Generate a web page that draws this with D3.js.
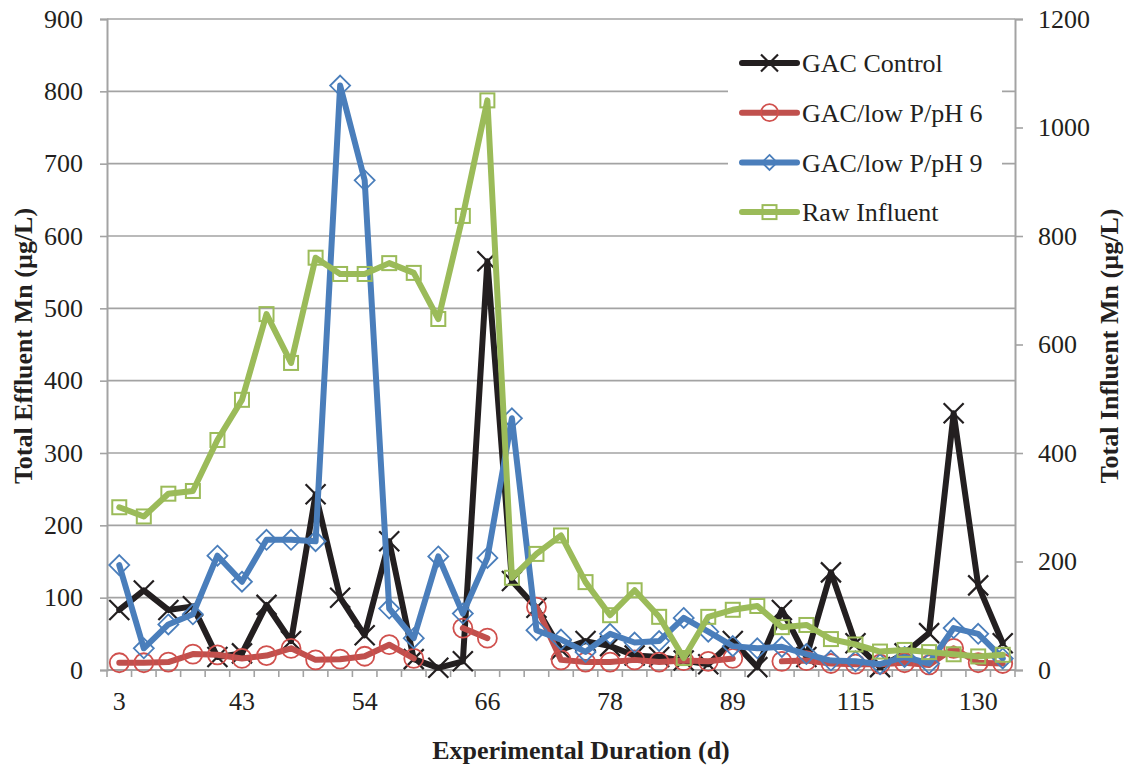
<!DOCTYPE html>
<html>
<head>
<meta charset="utf-8">
<script src="https://cdn.jsdelivr.net/npm/d3@7/dist/d3.min.js"></script>
<style>
  html, body { margin: 0; padding: 0; background: #fff; }
  svg { display: block; }
  text { font-family: "Liberation Serif", "Times New Roman", serif; fill: #231f20; }
</style>
</head>
<body>
<svg id="chart" width="1131" height="772"></svg>
<script>
// Sampling days (only every fifth one is labelled on the axis)
const days = [3, 10, 17, 24, 31, 43, 45, 47, 50, 52, 54, 57, 59, 61, 64, 66, 68, 71, 73, 75,
              78, 80, 82, 85, 87, 89, 94, 99, 104, 110, 115, 118, 121, 124, 127, 130, 133];

// Effluent Mn, µg/L (left axis)
const gacControl = [83, 110, 83, 88, 18, 23, 90, 40, 243, 100, 48, 178, 15, 3, 12, 565, 123, 86, 28, 40,
                    33, 20, 18, 13, 8, 40, 4, 83, 18, 135, 37, 4, 23, 51, 355, 117, 37];
const lowPpH6 = [10, 10, 11, 22, 21, 16, 20, 30, 14, 15, 19, 35, 16, null, 58, 44, null, 87, 14, 11,
                 11, 14, 11, 13, 12, 16, null, 12, 13, 9, 8, 8, 10, 7, 30, 10, 9];
const lowPpH9 = [145, 30, 63, 77, 158, 122, 180, 180, 178, 808, 677, 85, 44, 157, 78, 155, 348, 55, 42, 25,
                 50, 38, 40, 72, 53, 33, 30, 32, 22, 13, 12, 8, 18, 9, 58, 50, 16];
// Influent Mn, µg/L (right axis)
const rawInfluent = [300, 283, 325, 330, 424, 498, 656, 566, 760, 730, 730, 750, 732, 647, 837, 1050, 170, 214, 248, 162,
                     101, 147, 98, 22, 98, 111, 118, 79, 83, 57, 47, 34, 37, 33, 29, 25, 28];

const leftTicks = d3.range(0, 901, 100);
const rightTicks = d3.range(0, 1201, 200);
const seriesNames = ["GAC Control", "GAC/low P/pH 6", "GAC/low P/pH 9", "Raw Influent"];

const svg = d3.select("#chart");
const m = { left: 107, right: 1015, top: 19, bottom: 670 };
const gridColor = "#a3a3a3";

const x = d3.scaleBand().domain(days).range([m.left, m.right]).padding(0);
const yL = d3.scaleLinear().domain([0, 900]).range([m.bottom, m.top]);
const yR = d3.scaleLinear().domain([0, 1200]).range([m.bottom, m.top]);
const cx = d => x(d) + x.bandwidth() / 2;

// Horizontal gridlines
svg.append("g").selectAll("line").data(leftTicks).join("line")
  .attr("x1", m.left).attr("x2", m.right)
  .attr("y1", d => yL(d)).attr("y2", d => yL(d))
  .attr("stroke", gridColor).attr("stroke-width", 1.6);

// Left axis
const gL = svg.append("g").attr("transform", `translate(${m.left},0)`)
  .call(d3.axisLeft(yL).tickValues(leftTicks).tickFormat(d3.format("d")).tickSize(7).tickPadding(17));
// Right axis
const gR = svg.append("g").attr("transform", `translate(${m.right},0)`)
  .call(d3.axisRight(yR).tickValues(rightTicks).tickFormat(d3.format("d")).tickSize(8).tickPadding(15));
// Bottom axis: labels on every fifth category
const gB = svg.append("g").attr("transform", `translate(0,${m.bottom})`)
  .call(d3.axisBottom(x).tickValues(days.filter((d, i) => i % 5 === 0)).tickSize(0).tickPadding(22));

[gL, gR, gB].forEach(g => {
  g.selectAll(".domain").attr("stroke", gridColor).attr("stroke-width", 2);
  g.selectAll(".tick line").attr("stroke", gridColor).attr("stroke-width", 1.6);
  g.selectAll("text").attr("font-size", 26).attr("font-family", '"Liberation Serif", serif').attr("fill", "#231f20");
});
gB.select(".domain").attr("d", `M${m.left},0H${m.right}`);

// Category boundary ticks on the x axis
const edges = days.map(d => x(d)).concat([x.range()[1]]);
svg.append("g").selectAll("line").data(edges).join("line")
  .attr("x1", d => d).attr("x2", d => d)
  .attr("y1", m.bottom).attr("y2", m.bottom + 7)
  .attr("stroke", gridColor).attr("stroke-width", 1.6);

// Marker shapes
const markers = {
  cross: (g, s, color) => g.append("path")
    .attr("d", `M${-s},${-s}L${s},${s}M${-s},${s}L${s},${-s}`)
    .attr("stroke", color).attr("stroke-width", 2.2).attr("fill", "none"),
  circle: (g, s, color) => g.append("circle").attr("r", s)
    .attr("stroke", color).attr("stroke-width", 1.8).attr("fill", "none"),
  diamond: (g, s, color) => g.append("path")
    .attr("d", `M0,${-s}L${s},0L0,${s}L${-s},0Z`)
    .attr("stroke", color).attr("stroke-width", 1.8).attr("fill", "none"),
  square: (g, s, color) => g.append("rect")
    .attr("x", -s).attr("y", -s).attr("width", 2 * s).attr("height", 2 * s)
    .attr("stroke", color).attr("stroke-width", 2).attr("fill", "none")
};

const series = [
  { name: seriesNames[0], values: gacControl, y: yL, line: "#231f20", mark: "#231f20", shape: "cross", size: 10, legendSize: 8.5 },
  { name: seriesNames[1], values: lowPpH6, y: yL, line: "#c0504d", mark: "#d0504d", shape: "circle", size: 9.5, legendSize: 8.5 },
  { name: seriesNames[2], values: lowPpH9, y: yL, line: "#4a7ebb", mark: "#4a7ebb", shape: "diamond", size: 10, legendSize: 7.5 },
  { name: seriesNames[3], values: rawInfluent, y: yR, line: "#9bbb59", mark: "#9bbb59", shape: "square", size: 7, legendSize: 7 }
];

series.forEach(s => {
  const pts = days.map((d, i) => ({ d, v: s.values[i] }));
  const line = d3.line().defined(p => p.v != null).x(p => cx(p.d)).y(p => s.y(p.v));
  const g = svg.append("g");
  g.append("path").datum(pts).attr("d", line)
    .attr("fill", "none").attr("stroke", s.line).attr("stroke-width", 6)
    .attr("stroke-linejoin", "round").attr("stroke-linecap", "round");
  pts.filter(p => p.v != null).forEach(p => {
    const mg = g.append("g").attr("transform", `translate(${cx(p.d)},${s.y(p.v)})`);
    markers[s.shape](mg, s.size, s.mark);
  });
});

// Legend
const lg = svg.append("g");
lg.append("rect").attr("x", 728).attr("y", 26).attr("width", 274).attr("height", 208).attr("fill", "#fff");
series.forEach((s, i) => {
  const yy = 63 + i * 49.7;
  const row = lg.append("g").attr("transform", `translate(0,${yy})`);
  row.append("line").attr("x1", 742).attr("x2", 797).attr("y1", 0).attr("y2", 0)
    .attr("stroke", s.line).attr("stroke-width", 6).attr("stroke-linecap", "round");
  const mg = row.append("g").attr("transform", "translate(769.5,0)");
  markers[s.shape](mg, s.legendSize, s.mark);
  row.append("text").attr("x", 802).attr("y", 0).attr("dy", "0.35em")
    .attr("font-size", 26).text(s.name);
});

// Axis titles
svg.append("text").attr("transform", "translate(32,346) rotate(-90)")
  .attr("text-anchor", "middle").attr("font-size", 26).attr("font-weight", "bold")
  .text("Total Effluent Mn (µg/L)");
svg.append("text").attr("transform", "translate(1118,346) rotate(-90)")
  .attr("text-anchor", "middle").attr("font-size", 26).attr("font-weight", "bold")
  .text("Total Influent Mn (µg/L)");
svg.append("text").attr("x", 581).attr("y", 759)
  .attr("text-anchor", "middle").attr("font-size", 26).attr("font-weight", "bold")
  .text("Experimental Duration (d)");
</script>
</body>
</html>
